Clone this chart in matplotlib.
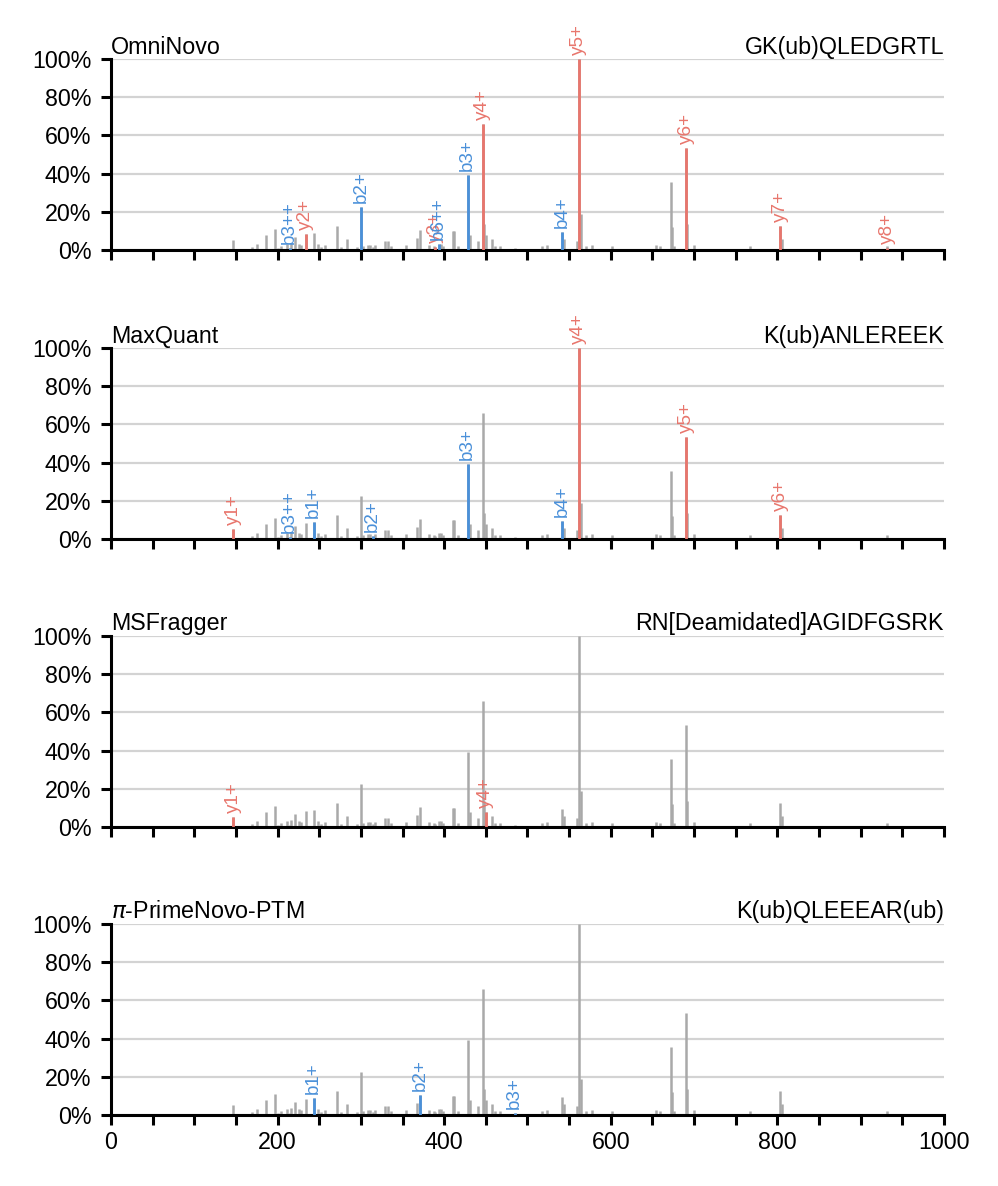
import numpy as np
import matplotlib
matplotlib.use("Agg")
import matplotlib.pyplot as plt
import matplotlib.ticker as mticker

plt.rcParams["font.family"] = ["Liberation Sans", "DejaVu Sans"]

# ── Experimental spectrum (m/z, relative intensity in %) ────────────────────
peak_mz = [147, 169, 175, 186, 197, 201, 204, 211, 214.5, 216, 220.5, 225.7,
           228, 233.7, 243.3, 248.5, 252, 257, 270.9, 275.7, 283.7, 295,
           300.5, 303, 308, 311, 314, 317, 329, 333, 336, 354, 367.7, 371.3,
           381.7, 387.8, 389.5, 393.5, 395.8, 399, 410, 412, 417, 428.2, 431,
           440, 446.5, 448, 450, 457, 461, 467, 484.5, 518, 524, 541.8, 544,
           559, 561.5, 564, 570, 577, 601.8, 654, 659, 672.3, 674, 676,
           690.6, 692, 700, 767.5, 803.5, 805, 931.5]
peak_int = [5.4, 1.7, 3.0, 7.8, 11.0, 1.0, 2.0, 3.0, 1.2, 3.5, 6.8, 3.0,
            2.5, 8.5, 9.0, 3.0, 1.7, 2.6, 12.7, 1.5, 5.8, 1.5,
            22.5, 2.0, 2.5, 2.5, 1.5, 2.5, 4.9, 4.9, 2.0, 2.5, 6.1, 10.5,
            2.5, 2.0, 1.5, 3.0, 3.0, 2.0, 9.8, 9.8, 2.0, 39.3, 7.8,
            4.7, 66.0, 13.6, 8.0, 5.8, 2.0, 2.0, 1.0, 2.0, 2.5, 9.2, 6.0,
            4.5, 100.0, 19.0, 2.0, 2.5, 2.0, 2.7, 2.3, 35.6, 12.0, 2.0,
            53.2, 13.6, 2.5, 2.3, 12.5, 6.0, 2.0]

TOOLS = ["OmniNovo", "MaxQuant", "MSFragger", r"$\pi$-PrimeNovo-PTM"]
PEPTIDES = ["GK(ub)QLEDGRTL", "K(ub)ANLEREEK", "RN[Deamidated]AGIDFGSRK",
            "K(ub)QLEEEAR(ub)"]

# ── Annotated fragment ions per tool ────────────────────────────────────────
omni_mz = [214.5, 233.7, 300.5, 389.5, 393.5, 428.2, 446.5, 541.8, 561.5, 690.6, 803.5, 931.5]
omni_int = [1.2, 8.5, 22.5, 1.5, 3.0, 39.3, 66.0, 9.2, 100.0, 53.2, 12.5, 1.0]
omni_lab = ["b3++", "y2+", "b2+", "y3+", "b6++", "b3+", "y4+", "b4+", "y5+", "y6+", "y7+", "y8+"]

maxq_mz = [147, 214.5, 243.3, 314, 428.2, 541.8, 561.5, 690.6, 803.5]
maxq_int = [5.4, 1.2, 9.0, 1.5, 39.3, 9.2, 100.0, 53.2, 12.5]
maxq_lab = ["y1+", "b3++", "b1+", "b2+", "b3+", "b4+", "y4+", "y5+", "y6+"]

msf_mz = [147, 450]
msf_int = [5.4, 8.0]
msf_lab = ["y1+", "y4+"]

prime_mz = [243.3, 371.3, 484.5]
prime_int = [9.0, 10.5, 1.0]
prime_lab = ["b1+", "b2+", "b3+"]

ANNOT = [(omni_mz, omni_int, omni_lab), (maxq_mz, maxq_int, maxq_lab),
         (msf_mz, msf_int, msf_lab), (prime_mz, prime_int, prime_lab)]

RED = "#E8766D"
BLUE = "#4A90D9"
GRAY = "#A9A9A9"
FS = 8.4

fig = plt.figure(figsize=(4.99, 5.93), dpi=200)
bottoms = [0.7892, 0.5455, 0.3027, 0.0599]

for i, (tool, pep, (amz, aint, alab)) in enumerate(zip(TOOLS, PEPTIDES, ANNOT)):
    ax = fig.add_axes([0.1112, bottoms[i], 0.8347, 0.1610])
    ax.vlines(np.array(peak_mz), 0, np.array(peak_int) / 100, color=GRAY, lw=0.9, zorder=2)
    for mz, inten, lab in zip(amz, aint, alab):
        c = BLUE if lab.startswith("b") else RED
        ax.vlines(mz, 0, inten / 100, color=c, lw=1.0, zorder=3)
        ax.annotate(lab, (mz, inten / 100), xytext=(0, 1.5), textcoords="offset points",
                    rotation=90, ha="center", va="bottom", fontsize=6.8, color=c, zorder=4)

    ax.set_xlim(0, 1000)
    ax.set_ylim(0, 1.0)
    ax.yaxis.set_major_locator(mticker.MultipleLocator(0.2))
    ax.yaxis.set_major_formatter(mticker.PercentFormatter(1.0, decimals=0))
    ax.xaxis.set_major_locator(mticker.MultipleLocator(200))
    ax.xaxis.set_minor_locator(mticker.MultipleLocator(50))
    ax.grid(axis="y", color="#D3D3D3", lw=0.8)
    ax.set_axisbelow(True)
    for s in ["top", "right"]:
        ax.spines[s].set_visible(False)
    for s in ["left", "bottom"]:
        ax.spines[s].set_linewidth(1.1)
    ax.tick_params(which="both", length=3.6, width=1.1, labelsize=FS, pad=2)
    ax.tick_params(axis="y", pad=3.5)
    if i < 3:
        ax.tick_params(axis="x", labelbottom=False)
    ax.set_title(tool, loc="left", fontsize=FS, pad=2)
    ax.set_title(pep, loc="right", fontsize=FS, pad=2)

fig.savefig("out.png", dpi=200)
